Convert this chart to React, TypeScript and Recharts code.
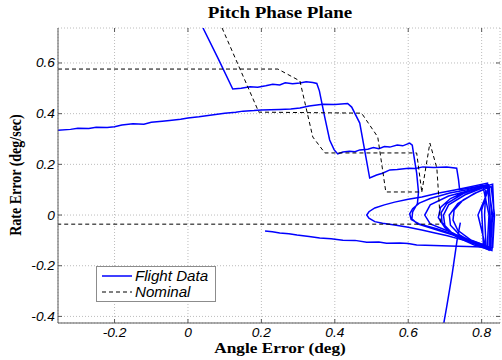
import React from 'react';
import { LineChart, Line, XAxis, YAxis, CartesianGrid } from 'recharts';

type Pt = [number, number];

// angle error (deg), rate error (deg/sec)
const xTicks = [-0.2, 0, 0.2, 0.4, 0.6, 0.8];
const yTicks = [-0.4, -0.2, 0, 0.2, 0.4, 0.6];
const xDomain: [number, number] = [-0.354, 0.85];
const yDomain: [number, number] = [-0.426, 0.738];

// flight data, split into the pieces that enter/leave the view
const flightEntry: Pt[] = [
  [0.041, 0.738], [0.082, 0.618], [0.122, 0.497], [0.145, 0.5], [0.169, 0.506], [0.19, 0.504],
  [0.212, 0.51], [0.231, 0.516], [0.25, 0.513], [0.265, 0.522], [0.285, 0.518], [0.305, 0.521],
  [0.322, 0.526], [0.34, 0.523], [0.351, 0.519], [0.358, 0.49], [0.372, 0.39], [0.386, 0.296],
  [0.398, 0.258], [0.408, 0.241], [0.422, 0.249], [0.44, 0.252], [0.455, 0.25], [0.468, 0.257],
  [0.49, 0.26], [0.505, 0.266], [0.52, 0.262], [0.535, 0.27], [0.55, 0.268], [0.57, 0.276],
  [0.585, 0.273], [0.604, 0.284], [0.611, 0.276], [0.617, 0.22], [0.623, 0.165], [0.628, 0.09],
  [0.625, 0.045], [0.612, 0.012], [0.61, -0.015], [0.625, -0.035], [0.67, -0.055], [0.72, -0.078],
  [0.77, -0.103], [0.815, -0.13], [0.82, 0.0], [0.803, 0.118], [0.76, 0.1], [0.713, 0.087],
  [0.66, 0.065], [0.63, 0.047], [0.612, 0.025], [0.604, 0.005], [0.608, -0.018], [0.63, -0.035],
  [0.68, -0.055], [0.74, -0.085], [0.8, -0.115], [0.82, -0.13],
];

const flightClimb: Pt[] = [
  [-0.354, 0.335], [-0.32, 0.338], [-0.3, 0.342], [-0.27, 0.341], [-0.25, 0.346], [-0.22, 0.345],
  [-0.2, 0.348], [-0.18, 0.355], [-0.15, 0.36], [-0.12, 0.358], [-0.1, 0.366], [-0.07, 0.37],
  [-0.05, 0.373], [-0.02, 0.378], [0.0, 0.383], [0.03, 0.388], [0.05, 0.392], [0.08, 0.398],
  [0.1, 0.402], [0.13, 0.406], [0.15, 0.41], [0.18, 0.412], [0.2, 0.414], [0.25, 0.416],
  [0.28, 0.418], [0.305, 0.422], [0.33, 0.43], [0.367, 0.437], [0.4, 0.436], [0.435, 0.44],
  [0.446, 0.426], [0.468, 0.363], [0.495, 0.146], [0.514, 0.158], [0.53, 0.165], [0.55, 0.178],
  [0.57, 0.18], [0.601, 0.185], [0.62, 0.184], [0.64, 0.19], [0.67, 0.188], [0.705, 0.19],
  [0.732, 0.185], [0.737, 0.14], [0.74, 0.1], [0.78, 0.11], [0.82, 0.12],
];

const flightCycles: Pt[] = [
  [0.82, 0.12], [0.826, 0.02], [0.822, -0.135], [0.78, -0.112], [0.735, -0.085], [0.7, -0.05],
  [0.682, -0.01], [0.688, 0.03], [0.715, 0.065], [0.76, 0.095], [0.812, 0.118],
  [0.808, 0.0], [0.812, -0.128], [0.765, -0.104], [0.72, -0.072], [0.692, -0.03], [0.69, 0.01],
  [0.705, 0.045], [0.75, 0.085], [0.8, 0.11], [0.83, 0.122],
  [0.834, -0.01], [0.828, -0.14], [0.78, -0.118], [0.73, -0.085], [0.7, -0.045], [0.696, 0.0],
  [0.71, 0.04], [0.755, 0.08], [0.805, 0.108], [0.82, 0.115],
  [0.8, 0.02], [0.805, -0.125], [0.76, -0.1], [0.72, -0.07], [0.66, -0.035], [0.645, 0.0],
  [0.66, 0.04], [0.71, 0.075], [0.775, 0.1], [0.818, 0.118],
  [0.83, 0.0], [0.824, -0.132], [0.775, -0.108], [0.74, -0.078], [0.715, -0.04], [0.712, 0.0],
  [0.735, 0.045], [0.78, 0.085], [0.822, 0.11],
  [0.79, 0.0], [0.81, -0.12], [0.77, -0.098], [0.735, -0.06], [0.722, -0.02], [0.725, 0.02],
  [0.75, 0.06], [0.795, 0.095], [0.826, 0.112], [0.835, 0.0], [0.83, -0.13],
];

const flightWide: Pt[] = [
  [0.83, -0.13], [0.8, -0.118], [0.773, -0.107], [0.74, -0.095], [0.707, -0.082], [0.67, -0.07],
  [0.637, -0.059], [0.6, -0.048], [0.563, -0.039], [0.53, -0.032], [0.509, -0.026], [0.493, -0.012],
  [0.487, 0.0], [0.493, 0.013], [0.509, 0.028], [0.535, 0.04], [0.563, 0.051], [0.6, 0.062],
  [0.637, 0.071], [0.68, 0.086], [0.727, 0.099], [0.77, 0.112], [0.816, 0.126], [0.822, 0.0],
  [0.82, -0.138], [0.803, -0.126], [0.76, -0.124], [0.713, -0.122], [0.67, -0.12], [0.623, -0.118],
  [0.6, -0.112], [0.577, -0.11], [0.541, -0.111], [0.52, -0.106], [0.487, -0.107], [0.455, -0.1],
  [0.422, -0.099], [0.39, -0.094], [0.359, -0.091], [0.33, -0.085], [0.297, -0.079], [0.275, -0.074],
  [0.25, -0.071], [0.23, -0.066], [0.21, -0.063],
];

const flightDive: Pt[] = [
  [0.697, -0.426], [0.705, -0.36], [0.712, -0.3], [0.72, -0.23], [0.727, -0.16], [0.733, -0.1],
  [0.738, -0.06], [0.742, -0.03],
];

// nominal switching-line responses
const nominalUpper: Pt[] = [
  [-0.354, 0.576], [0.245, 0.576], [0.305, 0.529], [0.34, 0.308], [0.373, 0.245], [0.623, 0.245],
  [0.637, 0.091],
];

const nominalLower: Pt[] = [
  [0.093, 0.738], [0.193, 0.406], [0.473, 0.402], [0.517, 0.308], [0.539, 0.091], [0.637, 0.091],
  [0.659, 0.284], [0.678, 0.185], [0.688, -0.036], [-0.354, -0.036],
];

const flightSegments = [flightEntry, flightClimb, flightCycles, flightWide, flightDive];
const nominalSegments = [nominalUpper, nominalLower];

const W = 502;
const H = 360;
const PLOT = { left: 58, right: 500, top: 28, bottom: 323 };
const BLUE = '#0000ff';
const AXIS = '#5a5a5a';
const SANS = '"Liberation Sans", Arial, sans-serif';
const SERIF = '"Liberation Serif", "Times New Roman", serif';

const toRows = (pts: Pt[]) => pts.map(([x, y]) => ({ x, y }));
const fmt = (v: number) => (v === 0 ? '0' : String(v));

const YTick = ({ y, payload }: any) => (
  <g>
    <line x1={PLOT.left} x2={PLOT.left + 4} y1={y} y2={y} stroke={AXIS} />
    <line x1={PLOT.right - 4} x2={PLOT.right} y1={y} y2={y} stroke={AXIS} />
    <text
      transform={`translate(${PLOT.left - 3},${y + 4.5}) scale(1.1,1)`}
      textAnchor="end"
      fontFamily={SANS}
      fontStyle="italic"
      fontSize={12.5}
      fill="#000"
    >
      {fmt(payload.value)}
    </text>
  </g>
);

const XTick = ({ x, payload }: any) => (
  <g>
    <line x1={x} x2={x} y1={PLOT.bottom} y2={PLOT.bottom - 4} stroke={AXIS} />
    <line x1={x} x2={x} y1={PLOT.top} y2={PLOT.top + 4} stroke={AXIS} />
    <text
      transform={`translate(${x},337) scale(1.1,1)`}
      textAnchor="middle"
      fontFamily={SANS}
      fontStyle="italic"
      fontSize={12.5}
      fill="#000"
    >
      {fmt(payload.value)}
    </text>
  </g>
);

export default function App() {
  return (
    <div style={{ position: 'absolute', left: 0, top: 0, width: W, height: H, background: '#fff' }}>
      <LineChart
        width={W}
        height={H}
        margin={{ top: PLOT.top, right: W - PLOT.right, bottom: 0, left: 0 }}
      >
        <CartesianGrid stroke="#bcbcbc" strokeDasharray="1 2" />
        <XAxis
          type="number"
          dataKey="x"
          domain={xDomain}
          ticks={xTicks}
          allowDataOverflow
          height={H - PLOT.bottom}
          axisLine={{ stroke: AXIS }}
          tickLine={false}
          tick={<XTick />}
        />
        <XAxis
          xAxisId="top"
          orientation="top"
          type="number"
          domain={xDomain}
          height={0}
          tick={false}
          tickLine={false}
          axisLine={{ stroke: '#8a8a8a' }}
        />
        <YAxis
          type="number"
          dataKey="y"
          domain={yDomain}
          ticks={yTicks}
          allowDataOverflow
          width={PLOT.left}
          axisLine={{ stroke: AXIS }}
          tickLine={false}
          tick={<YTick />}
        />
        <YAxis
          yAxisId="right"
          orientation="right"
          type="number"
          domain={yDomain}
          width={0}
          tick={false}
          tickLine={false}
          axisLine={{ stroke: '#8a8a8a' }}
        />
        {flightSegments.map((seg, i) => (
          <Line
            key={`flight-${i}`}
            data={toRows(seg)}
            dataKey="y"
            type="linear"
            stroke={BLUE}
            strokeWidth={1.5}
            dot={false}
            legendType="none"
            isAnimationActive={false}
          />
        ))}
        {nominalSegments.map((seg, i) => (
          <Line
            key={`nominal-${i}`}
            data={toRows(seg)}
            dataKey="y"
            type="linear"
            stroke="#000"
            strokeWidth={1}
            strokeDasharray="4 3"
            dot={false}
            legendType="none"
            isAnimationActive={false}
          />
        ))}
      </LineChart>

      <svg
        width={W}
        height={H}
        style={{ position: 'absolute', left: 0, top: 0, pointerEvents: 'none' }}
      >
        <text
          transform="translate(280,18) scale(1.15,1)"
          textAnchor="middle"
          fontFamily={SERIF}
          fontWeight="bold"
          fontSize={16.5}
        >
          Pitch Phase Plane
        </text>
        <text
          transform="translate(280,353) scale(1.15,1)"
          textAnchor="middle"
          fontFamily={SERIF}
          fontWeight="bold"
          fontSize={15}
        >
          Angle Error (deg)
        </text>
        <text
          transform="translate(21,175) rotate(-90) scale(1,1.15)"
          textAnchor="middle"
          fontFamily={SERIF}
          fontWeight="bold"
          fontSize={14}
        >
          Rate Error (deg/sec)
        </text>

        <g>
          <rect x={96.5} y={266.5} width={119} height={35} fill="#fff" stroke="#8c8c8c" />
          <line x1={102} x2={132} y1={276} y2={276} stroke={BLUE} strokeWidth={1.5} />
          <line x1={102} x2={132} y1={292} y2={292} stroke="#000" strokeDasharray="4 3" />
          <text
            transform="translate(135,281) scale(1.08,1)"
            fontFamily={SANS}
            fontStyle="italic"
            fontSize={14}
          >
            Flight Data
          </text>
          <text
            transform="translate(135,297) scale(1.08,1)"
            fontFamily={SANS}
            fontStyle="italic"
            fontSize={14}
          >
            Nominal
          </text>
        </g>
      </svg>
    </div>
  );
}
